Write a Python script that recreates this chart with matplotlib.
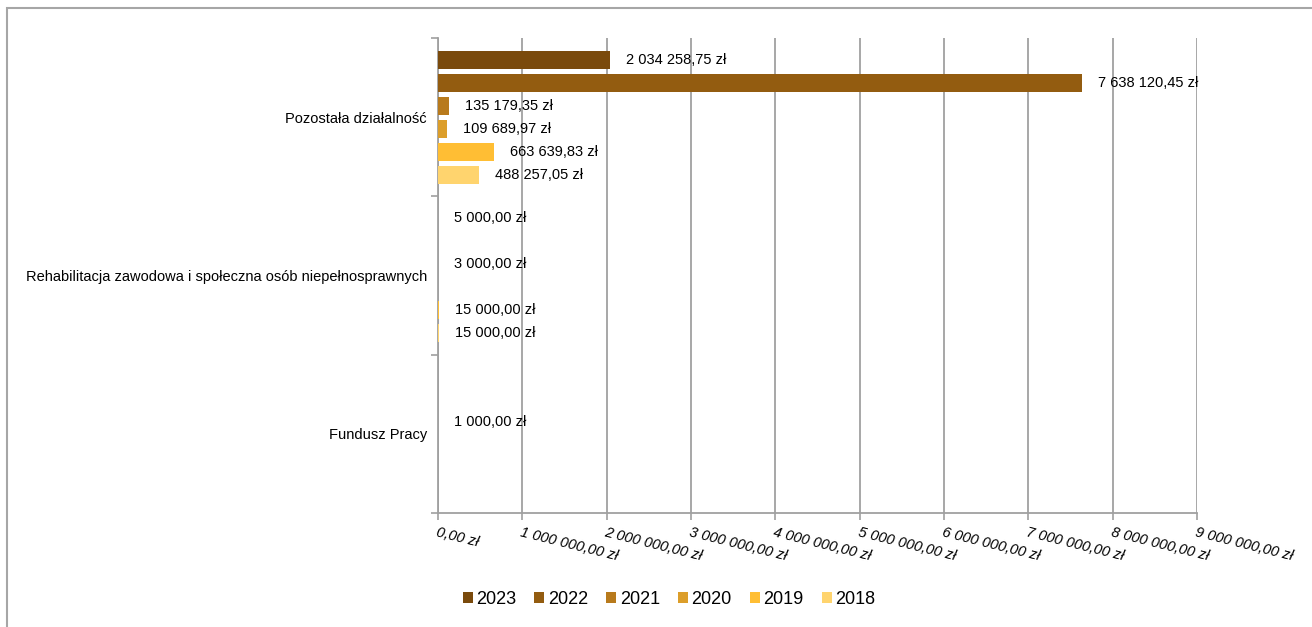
import numpy as np
import matplotlib.pyplot as plt
from matplotlib.patches import Rectangle
from matplotlib.ticker import FixedLocator

plt.rcParams['font.family'] = ['Liberation Sans', 'DejaVu Sans']

# categories from top to bottom
categories = ['Pozostała działalność',
              'Rehabilitacja zawodowa i społeczna osób niepełnosprawnych',
              'Fundusz Pracy']
years = ['2023', '2022', '2021', '2020', '2019', '2018']
colors = ['#7A4A0C', '#935C10', '#B87A1C', '#DC9E2A', '#FFBE34', '#FFD46E']

# amounts in zł per year, one entry per category (nan = no value)
v2023 = [2034258.75, 5000.00, np.nan]
v2022 = [7638120.45, np.nan, np.nan]
v2021 = [135179.35, 3000.00, 1000.00]
v2020 = [109689.97, np.nan, np.nan]
v2019 = [663639.83, 15000.00, np.nan]
v2018 = [488257.05, 15000.00, np.nan]
series = [v2023, v2022, v2021, v2020, v2019, v2018]

x_ticks = [0, 1e6, 2e6, 3e6, 4e6, 5e6, 6e6, 7e6, 8e6, 9e6]


def zl(v):
    s = f'{v:,.2f}'
    s = s.replace(',', ' ').replace('.', ',')
    return s + ' zł'


fig = plt.figure(figsize=(13.12, 6.27), dpi=100)
ax = fig.add_axes([438 / 1312, 1 - 513 / 627, 759 / 1312, 475 / 627])

# outer chart frame (only left and top edges fall inside the image)
fig.patches.append(Rectangle((7 / 1312, -0.1), 1.2, 1 - 8 / 627 + 0.1,
                             transform=fig.transFigure, fill=False,
                             edgecolor='#A6A6A6', linewidth=1.5))

n = len(years)
pitch = 23 / 158
gap = 1 - n * pitch
bar_h = 18 / 158

for i, (yr, vals, c) in enumerate(zip(years, series, colors)):
    ys = np.arange(len(categories)) + gap / 2 + (i + 0.5) * pitch
    ax.barh(ys, np.nan_to_num(vals), height=bar_h, color=c, label=yr, zorder=3)
    for y, v in zip(ys, vals):
        if np.isnan(v):
            continue
        ax.annotate(zl(v), (v, y), xytext=(16, 0), textcoords='offset pixels',
                    va='center', ha='left', fontsize=10.5, color='#000000', zorder=4)

ax.set_xlim(0, 9e6)
ax.set_ylim(len(categories), 0)

ax.xaxis.set_major_locator(FixedLocator(x_ticks))
ax.set_xticklabels([zl(t) for t in x_ticks], rotation=-14, ha='left',
                   rotation_mode='anchor', fontsize=10.5, style='italic')
ax.tick_params(axis='x', direction='out', length=5, width=1.2, color='#A0A0A0', pad=4)

ax.yaxis.set_major_locator(FixedLocator([0, 1, 2, 3]))
ax.yaxis.set_minor_locator(FixedLocator([0.5, 1.5, 2.5]))
ax.set_yticklabels([])
ax.set_yticklabels(categories, minor=True, fontsize=10.5)
ax.tick_params(axis='y', which='major', direction='out', length=5, width=1.2, color='#A0A0A0')
ax.tick_params(axis='y', which='minor', length=0, pad=8)

ax.grid(axis='x', color='#A0A0A0', linewidth=1.3, zorder=0)
for side in ['top', 'right']:
    ax.spines[side].set_visible(False)
for side in ['left', 'bottom']:
    ax.spines[side].set_color('#A0A0A0')
    ax.spines[side].set_linewidth(1.3)

fig.legend(loc='center', bbox_to_anchor=(669 / 1312, 1 - 599 / 627), ncol=6,
           frameon=False, fontsize=13, handlelength=0.55, handleheight=0.55,
           handletextpad=0.2, columnspacing=1.0)

fig.savefig('out.png', dpi=100)
